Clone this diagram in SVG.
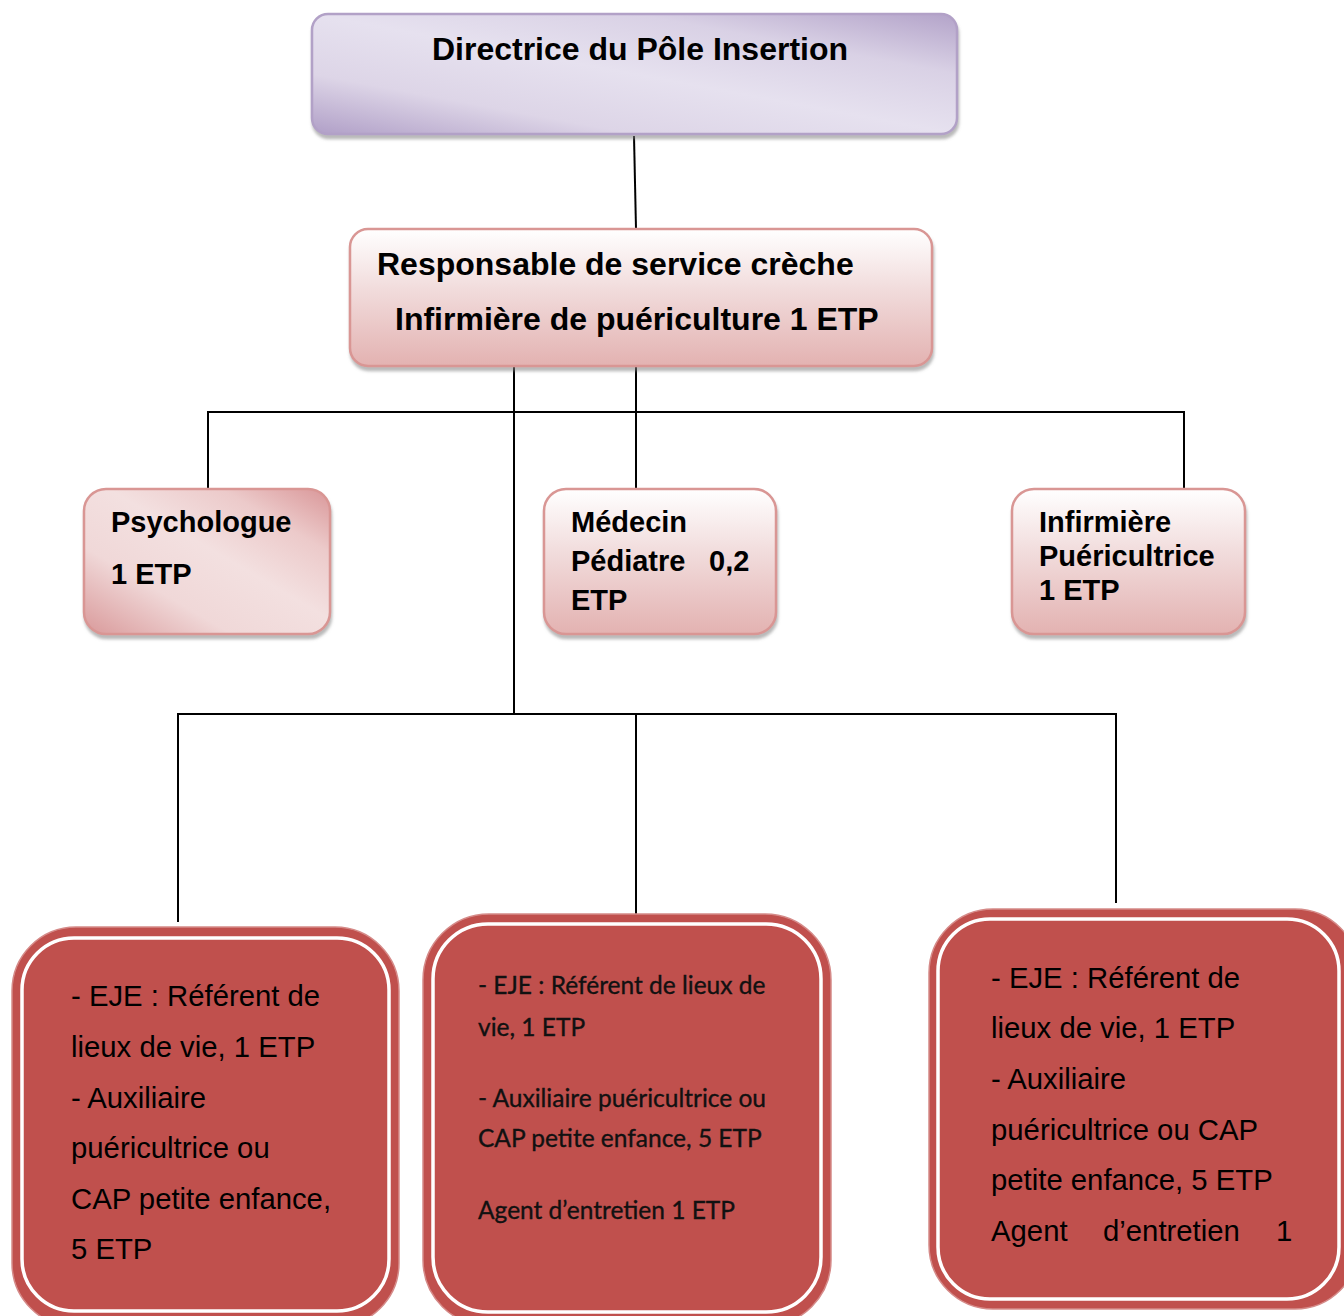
<svg xmlns="http://www.w3.org/2000/svg" width="1344" height="1316" viewBox="0 0 1344 1316">
  <defs>
    <linearGradient id="gPurple" x1="0" y1="1" x2="1" y2="0">
      <stop offset="0" stop-color="#b09fc7"/>
      <stop offset="0.25" stop-color="#ddd5e7"/>
      <stop offset="0.5" stop-color="#e6e1ef"/>
      <stop offset="0.75" stop-color="#d9d1e5"/>
      <stop offset="1" stop-color="#b3a3c9"/>
    </linearGradient>
    <linearGradient id="gPinkDiag" x1="0" y1="1" x2="1" y2="0">
      <stop offset="0" stop-color="#d9999a"/>
      <stop offset="0.3" stop-color="#f0d8d8"/>
      <stop offset="0.55" stop-color="#f3e0e0"/>
      <stop offset="0.78" stop-color="#eccaca"/>
      <stop offset="1" stop-color="#d99698"/>
    </linearGradient>
    <linearGradient id="gPinkVert" x1="0" y1="0" x2="0" y2="1">
      <stop offset="0" stop-color="#ffffff"/>
      <stop offset="0.45" stop-color="#f1dbdb"/>
      <stop offset="1" stop-color="#e3b2b1"/>
    </linearGradient>
    <filter id="shadow" x="-5%" y="-5%" width="110%" height="120%">
      <feDropShadow dx="1" dy="4" stdDeviation="1.5" flood-color="#7f7f7f" flood-opacity="0.55"/>
    </filter>
  </defs>
  <style>
    .bold { font-family: "Liberation Sans", Arial, sans-serif; font-weight: bold; fill: #000; }
    .reg { font-family: "Liberation Sans", Arial, sans-serif; font-size: 29.3px; fill: #000; }
    .cal { font-family: Lato, "Open Sans", sans-serif; font-size: 24.5px; fill: #111; stroke: #111; stroke-width: 0.35; }
    .conn { stroke: #000; stroke-width: 2; fill: none; }
    .redOuter { fill: #c0504d; stroke: #d58a88; stroke-width: 1.5; }
    .redInner { fill: #c0504d; stroke: #ffffff; stroke-width: 3.5; }
    .pinkBox { stroke: #d99694; stroke-width: 2.5; filter: url(#shadow); }
  </style>

  <!-- connectors -->
  <g id="connectors">
    <line class="conn" x1="634" y1="136" x2="636" y2="229"/>
    <line class="conn" x1="636" y1="366" x2="636" y2="489"/>
    <polyline class="conn" points="208,489 208,412 1184,412 1184,489"/>
    <line class="conn" x1="514" y1="365" x2="514" y2="714"/>
    <polyline class="conn" points="178,922 178,714 1116,714 1116,903"/>
    <line class="conn" x1="636" y1="714" x2="636" y2="914"/>
  </g>

  <!-- top -->
  <g id="directrice">
    <rect x="312" y="14" width="645" height="120" rx="16" fill="url(#gPurple)" stroke="#b2a1c7" stroke-width="2.5" filter="url(#shadow)"/>
    <text class="bold" x="640" y="60" font-size="32" text-anchor="middle">Directrice du Pôle Insertion</text>
  </g>

  <g id="responsable">
    <rect class="pinkBox" x="350" y="229" width="582" height="137" rx="18" fill="url(#gPinkVert)"/>
    <text class="bold" x="377" y="275" font-size="32">Responsable de service crèche</text>
    <text class="bold" x="395" y="330" font-size="32">Infirmière de puériculture 1 ETP</text>
  </g>

  <g id="psychologue">
    <rect class="pinkBox" x="84" y="489" width="246" height="145" rx="22" fill="url(#gPinkDiag)"/>
    <text class="bold" x="111" y="532" font-size="29">Psychologue</text>
    <text class="bold" x="111" y="584" font-size="29">1 ETP</text>
  </g>

  <g id="medecin">
    <rect class="pinkBox" x="544" y="489" width="232" height="145" rx="22" fill="url(#gPinkVert)"/>
    <text class="bold" x="571" y="532" font-size="29">Médecin</text>
    <text class="bold" font-size="29" y="571"><tspan x="571">Pédiatre</tspan><tspan x="709">0,2</tspan></text>
    <text class="bold" x="571" y="610" font-size="29">ETP</text>
  </g>

  <g id="infirmiere">
    <rect class="pinkBox" x="1012" y="489" width="233" height="145" rx="22" fill="url(#gPinkVert)"/>
    <text class="bold" x="1039" y="532" font-size="29">Infirmière</text>
    <text class="bold" x="1039" y="566" font-size="29">Puéricultrice</text>
    <text class="bold" x="1039" y="600" font-size="29">1 ETP</text>
  </g>

  <!-- staff boxes -->
  <g id="lieu-gauche">
    <rect class="redOuter" x="12" y="927" width="387" height="400" rx="64"/>
    <rect class="redInner" x="22" y="938" width="367" height="373" rx="52"/>
    <text class="reg" x="71" y="1006">- EJE : Référent de</text>
    <text class="reg" x="71" y="1057">lieux de vie, 1 ETP</text>
    <text class="reg" x="71" y="1108">- Auxiliaire</text>
    <text class="reg" x="71" y="1158">puéricultrice ou</text>
    <text class="reg" x="71" y="1209">CAP petite enfance,</text>
    <text class="reg" x="71" y="1259">5 ETP</text>
  </g>

  <g id="lieu-centre">
    <rect class="redOuter" x="423" y="914" width="408" height="412" rx="66"/>
    <rect class="redInner" x="433" y="924" width="388" height="388" rx="55"/>
    <text class="cal" x="478" y="994">- EJE : Référent de lieux de</text>
    <text class="cal" x="478" y="1036">vie, 1 ETP</text>
    <text class="cal" x="478" y="1107">- Auxiliaire puéricultrice ou</text>
    <text class="cal" x="478" y="1147">CAP petite enfance, 5 ETP</text>
    <text class="cal" x="478" y="1219">Agent d’entretien 1 ETP</text>
  </g>

  <g id="lieu-droite">
    <rect class="redOuter" x="929" y="909" width="430" height="400" rx="64"/>
    <rect class="redInner" x="938" y="919" width="401" height="380" rx="52"/>
    <text class="reg" x="991" y="988">- EJE : Référent de</text>
    <text class="reg" x="991" y="1038">lieux de vie, 1 ETP</text>
    <text class="reg" x="991" y="1089">- Auxiliaire</text>
    <text class="reg" x="991" y="1140">puéricultrice ou CAP</text>
    <text class="reg" x="991" y="1190">petite enfance, 5 ETP</text>
    <text class="reg" y="1241"><tspan x="991">Agent</tspan><tspan x="1103">d’entretien</tspan><tspan x="1276">1</tspan></text>
  </g>
</svg>
